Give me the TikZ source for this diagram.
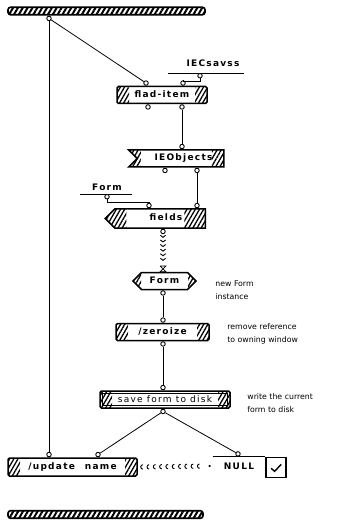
\documentclass[tikz,border=0pt]{standalone}
\usepackage{fontspec}
\setmainfont{DejaVu Sans}
\newfontfamily\opfont{DejaVu Sans}[LetterSpace=14]
\usetikzlibrary{patterns.meta,shapes.symbols,decorations.markings}

\begin{document}
\begin{tikzpicture}[x=1pt, y=-1pt, line width=0.8pt,
	hatch width/.store in=\hatchw, hatch width=12pt,
	hatch/.style={pattern={Lines[angle=60,distance=3.6pt,line width=1.3pt]}},
	barhatch/.style={pattern={Lines[angle=60,distance=4.2pt,line width=2pt]}},
	opbox/.style={draw, line width=1.5pt, fill=white, rounded corners=1.5pt, minimum height=17pt, inner sep=0pt,
		font=\fontsize{9}{10}\opfont\bfseries, text height=6.5pt, text depth=1.5pt,
		path picture={
			\fill[hatch] (path picture bounding box.north west) rectangle ([xshift=\hatchw]path picture bounding box.south west);
			\fill[hatch] (path picture bounding box.north east) rectangle ([xshift=-\hatchw]path picture bounding box.south east);
		}},
	bar/.style={draw, line width=1.6pt, rounded corners=2.5pt, minimum height=7.5pt, inner sep=0pt, barhatch},
	term/.style={circle, draw, fill=white, inner sep=0pt, minimum size=4.5pt, line width=0.9pt},
	rootlabel/.style={font=\fontsize{9}{10}\opfont\bfseries, inner sep=1pt},
	note/.style={font=\fontsize{7.8}{13}\selectfont, align=left, anchor=west, inner sep=0pt},
	chevrons/.style={decorate, decoration={markings,
		mark=between positions 0.1 and 0.85 step 4.6pt with {\draw[line width=0.9pt] (-2pt,-2.6pt) -- (0pt,0pt) -- (-2pt,2.6pt);}}},
	sync/.style={decorate, decoration={markings,
		mark=between positions 0.05 and 0.85 step 6.3pt with {\draw[line width=0.9pt] (1.4pt,-2.2pt) arc[start angle=-90, end angle=-270, radius=2.2pt];},
		mark=at position -3pt with {\fill (0pt,0pt) circle (1.2pt);}}}
]
\useasboundingbox (0,0) rectangle (351,526);

% frame bars
\node[bar, minimum width=197pt] (topbar) at (106.5,11) {};
\node[bar, minimum width=195pt] (botbar) at (105.5,514.5) {};
\node[term, anchor=north] (tb-out) at (topbar.south -| 49,0) {};

% roots
\node[rootlabel] (iec) at (213,63) {IECsavss};
\draw (168,73) -- (244,73);
\node[term, anchor=north] (iec-root) at (200,73) {};
\node[rootlabel] (form) at (107,187) {Form};
\draw (80,194) -- (132,194);
\node[term, anchor=north] (form-root) at (107,194) {};

% operations
\node[opbox, minimum width=90pt] (fi) at (162,95) {flad-item};
\node[opbox, shape=signal, signal from=west, signal to=nowhere, rounded corners=0pt, minimum width=95pt] (io) at (180.5,158.5) {\hspace{6pt}IEObjects};
\node[opbox, shape=signal, signal to=west, rounded corners=0pt, hatch width=21pt, minimum width=100pt, minimum height=19pt] (fd) at (160,218.5) {\hspace{12pt}fields};
\node[opbox, shape=signal, signal to=west and east, rounded corners=0pt, hatch width=8pt, minimum width=63pt] (fm) at (164.5,281) {Form};
\node[opbox, minimum width=93pt] (zr) at (162.5,332) {/zeroize};
\node[opbox, minimum width=130pt, hatch width=12pt, font=\fontsize{9}{10}\opfont] (sv) at (165,399.5) {save form to disk};
\draw[line width=0.6pt] ([xshift=3pt,yshift=-3pt]sv.north west) rectangle ([xshift=-3pt,yshift=3pt]sv.south east);
\node[opbox, minimum width=129pt, minimum height=18pt] (up) at (72.5,467) {/update\hspace{10pt}name};
\node[font=\fontsize{9}{10}\opfont\bfseries, minimum width=52pt, minimum height=18pt, inner sep=0pt] (null) at (239,466) {NULL};
\draw[line width=1.5pt] (null.north west) -- (null.north east);
\node[draw, line width=1.5pt, minimum size=20pt, inner sep=0pt, anchor=north west] (chk) at (null.north east) {};
\draw[line width=1.4pt] ([shift={(-5pt,-1pt)}]chk.center) -- ([shift={(-1.5pt,-4pt)}]chk.center) -- ([shift={(5pt,3pt)}]chk.center);

% terminals
\node[term, anchor=south] (fi-in1) at (fi.north -| 146,0) {};
\node[term, anchor=south] (fi-in2) at (fi.north -| 183,0) {};
\node[term, anchor=north] (fi-out1) at (fi.south -| 148,0) {};
\node[term, anchor=north] (fi-out2) at (fi.south -| 182,0) {};
\node[term, anchor=south] (io-in) at (io.north -| 182,0) {};
\node[term, anchor=north] (io-out1) at (io.south -| 165,0) {};
\node[term, anchor=north] (io-out2) at (io.south -| 197,0) {};
\node[term, anchor=south] (fd-in1) at (fd.north -| 149,0) {};
\node[term, anchor=south] (fd-in2) at (fd.north -| 197,0) {};
\node[term, anchor=north] (fd-out) at (fd.south -| 163,0) {};
\node[inner sep=0pt, minimum width=5pt, minimum height=5pt, anchor=south] (fm-in) at (fm.north -| 163,0) {};
\draw (fm-in.north west) -- (fm-in.north east) -- (fm-in.south west) -- (fm-in.south east) -- (fm-in.north west);
\node[term, anchor=north] (fm-out) at (fm.south -| 163,0) {};
\node[term, anchor=south] (zr-in) at (zr.north -| 163,0) {};
\node[term, anchor=north] (zr-out) at (zr.south -| 163,0) {};
\node[term, anchor=south] (sv-in) at (sv.north -| 163,0) {};
\node[term, anchor=north] (sv-out) at (sv.south -| 163,0) {};
\node[term, anchor=south] (up-in1) at (up.north -| 49,0) {};
\node[term, anchor=south] (up-in2) at (up.north -| 98,0) {};
\node[term, anchor=south] (null-in) at (null.north -| 238,0) {};

% datalinks
\draw (tb-out) -- (fi-in1);
\draw (tb-out) -- (up-in1);
\draw (iec-root.south) -- ++(0,3) -| (fi-in2.north);
\draw (fi-out2) -- (io-in);
\draw (io-out2) -- (fd-in2);
\draw (form-root.south) -- ++(0,3) -| (fd-in1.north);
\path[chevrons] (fd-out.south) -- (fm-in.north);
\draw (fm-out) -- (zr-in);
\draw (zr-out) -- (sv-in);
\draw (sv-out) -- (up-in2);
\draw (sv-out) -- (null-in);
\path[sync] (up.east) -- (null.west);

% comments
\node[note] at (215,290) {new Form\\instance};
\node[note] at (227,334) {remove reference\\to owning window};
\node[note] at (247,403) {write the current\\form to disk};
\end{tikzpicture}
\end{document}
